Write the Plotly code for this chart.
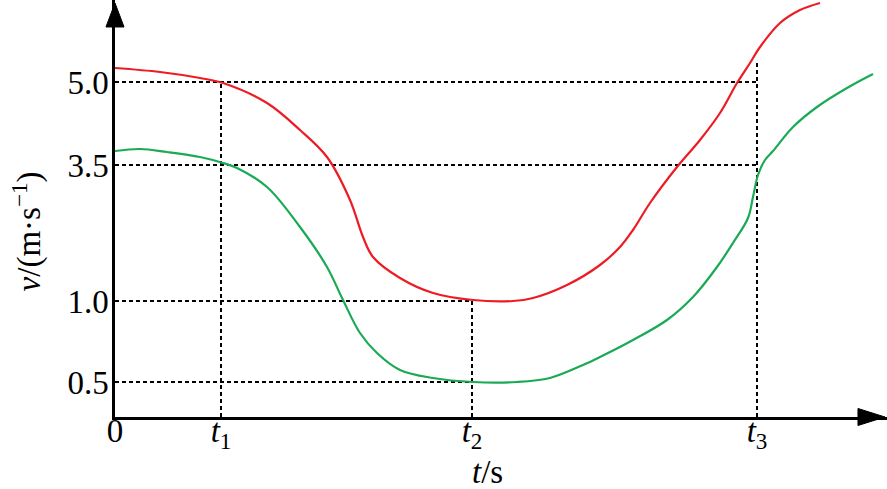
import plotly.graph_objects as go

# Schematic axis units (the chart's v-axis is not to scale)
red_t = [0, .45, .85, 1.08, 1.52, 1.85, 2.12, 2.35, 2.48, 2.58, 2.85, 3.18, 3.58, 3.98, 4.18,
         4.52, 4.85, 5.05, 5.18, 5.35, 5.62, 5.85, 6.05, 6.22, 6.35, 6.45, 6.65, 6.85, 7.05]
red_v = [3.49, 3.45, 3.39, 3.34, 3.14, 2.87, 2.60, 2.17, 1.80, 1.60, 1.39, 1.24, 1.17, 1.16, 1.19,
         1.32, 1.52, 1.70, 1.87, 2.14, 2.50, 2.77, 3.04, 3.34, 3.54, 3.70, 3.94, 4.07, 4.14]

green_t = [0, .25, .52, .85, 1.08, 1.22, 1.52, 1.85, 2.12, 2.28, 2.45, 2.62, 2.85, 3.18, 3.58,
           4.02, 4.35, 4.68, 4.85, 5.18, 5.52, 5.78, 6.02, 6.18, 6.33, 6.38, 6.43, 6.50, 6.58,
           6.78, 7.02, 7.32, 7.58]
green_v = [2.66, 2.68, 2.65, 2.60, 2.54, 2.49, 2.30, 1.90, 1.50, 1.17, 0.84, 0.64, 0.47, 0.39, 0.35,
           0.35, 0.39, 0.52, 0.60, 0.77, 0.97, 1.20, 1.50, 1.74, 1.99, 2.20, 2.42, 2.57, 2.66,
           2.90, 3.10, 3.29, 3.43]

x_tick_vals = [0, 1.06, 3.57, 6.42]
x_tick_text = ["0", "<i>t</i><sub>1</sub>", "<i>t</i><sub>2</sub>", "<i>t</i><sub>3</sub>"]
y_tick_vals = [3.35, 2.52, 1.16, 0.35]
y_tick_text = ["5.0", "3.5", "1.0", "0.5"]

t1, t2, t3 = x_tick_vals[1], x_tick_vals[2], x_tick_vals[3]
v50, v35, v10, v05 = y_tick_vals
t3_top = 3.55

X_MAX, Y_MAX = 7.72, 4.17
FONT = "Liberation Serif, Times New Roman, serif"
FS = 33

fig = go.Figure()

# dotted guide lines
dot = dict(color="black", width=2, dash="4px,3px")
guides = [
    ([0, t3], [v50, v50]), ([0, t3], [v35, v35]),
    ([0, t2], [v10, v10]), ([0, t2], [v05, v05]),
    ([t1, t1], [0, v50]), ([t2, t2], [0, v10]), ([t3, t3], [0, t3_top]),
]
for gx, gy in guides:
    fig.add_trace(go.Scatter(x=gx, y=gy, mode="lines", line=dot, hoverinfo="skip", showlegend=False))

fig.add_trace(go.Scatter(x=red_t, y=red_v, mode="lines",
                         line=dict(color="#ec1c24", width=2.2, shape="spline", smoothing=1.0),
                         showlegend=False))
fig.add_trace(go.Scatter(x=green_t, y=green_v, mode="lines",
                         line=dict(color="#1aaa55", width=2.2, shape="spline", smoothing=1.0),
                         showlegend=False))

# arrow heads (paper coordinates, so they are not clipped)
fig.add_shape(type="path", xref="paper", yref="paper",
              path="M 0.9624,0.0204 L 0.9974,0 L 0.9624,-0.0204 Z",
              fillcolor="black", line=dict(color="black", width=1))
fig.add_shape(type="path", xref="paper", yref="paper",
              path="M -0.0117,0.9353 L 0,0.9928 L 0.0117,0.9353 Z",
              fillcolor="black", line=dict(color="black", width=1))

fig.add_annotation(x=0.482, y=-0.133, xref="paper", yref="paper", text="<i>t</i>/s", showarrow=False,
                   xanchor="center", yanchor="middle",
                   font=dict(family=FONT, size=FS, color="black"))
fig.add_annotation(x=-0.114, y=0.445, xref="paper", yref="paper", text="<i>v</i>/(m·s<sup>−1</sup>)",
                   showarrow=False, textangle=-90, xanchor="center", yanchor="middle",
                   font=dict(family=FONT, size=FS, color="black"))

fig.update_layout(
    width=887, height=489,
    margin=dict(l=115, r=0, t=0, b=72),
    paper_bgcolor="white", plot_bgcolor="white",
    xaxis=dict(range=[0, X_MAX], showgrid=False, zeroline=False, showline=True, linecolor="black", linewidth=2.5,
               tickmode="array", tickvals=x_tick_vals, ticktext=x_tick_text, ticks="",
               ticklabelstandoff=-17,
               tickfont=dict(family=FONT, size=FS, color="black")),
    yaxis=dict(range=[0, Y_MAX], showgrid=False, zeroline=False, showline=True, linecolor="black", linewidth=2.5,
               tickmode="array", tickvals=y_tick_vals, ticktext=y_tick_text, ticks="",
               ticklabelstandoff=-3,
               tickfont=dict(family=FONT, size=FS, color="black")),
)

fig.write_html("out.html", config={"displayModeBar": False},
               post_script="document.body.style.margin='0';")
